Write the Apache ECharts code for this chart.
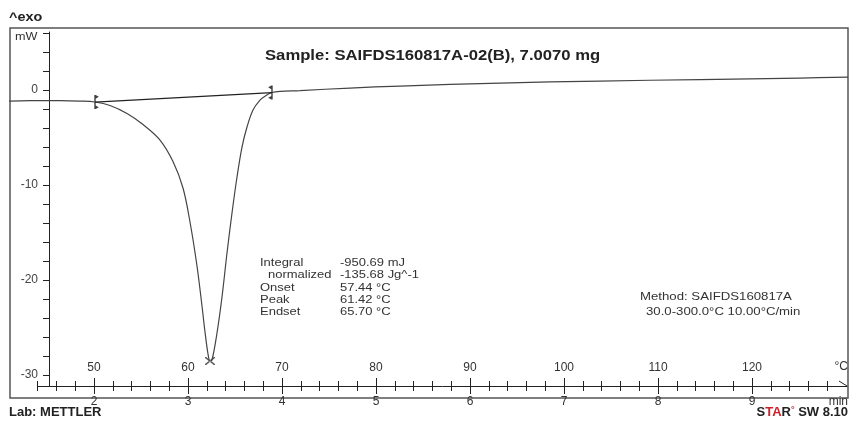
<!DOCTYPE html>
<html>
<head>
<meta charset="utf-8">
<script src="https://cdn.jsdelivr.net/npm/echarts@6/dist/echarts.min.js"></script>
<style>
  html, body { margin: 0; padding: 0; background: #fff; }
  #main { width: 849px; height: 425px; }
</style>
</head>
<body>
<div id="main"></div>
<script>
// DSC curve, time in min, heat flow in mW
var timeMin = [1.0957, 1.3191, 1.6383, 1.8511, 2.0106, 2.1702, 2.3511, 2.5213, 2.7021, 2.8404, 2.9468, 3.0213, 3.0957, 3.1489, 3.1809, 3.2128, 3.2340, 3.2553, 3.3085, 3.3617, 3.4149, 3.4681, 3.5213, 3.5745, 3.6277, 3.6915, 3.7660, 3.8298, 3.8936, 3.9787, 4.1915, 4.7234, 5.2553, 6.3191, 7.3830, 8.4468, 9.5106, 10.0213];
var heatFlow = [-1.158, -1.105, -1.105, -1.158, -1.263, -1.632, -2.474, -3.632, -5.263, -7.526, -10.316, -13.895, -18.526, -22.737, -25.474, -27.789, -28.526, -28.421, -25.579, -21.789, -17.158, -12.947, -9.158, -6.0, -3.895, -2.105, -1.053, -0.579, -0.263, -0.137, -0.053, 0.211, 0.421, 0.737, 0.947, 1.105, 1.263, 1.368];
var limitTime = [2.0106, 3.8936];
var limitFlow = [-1.263, -0.263];
var peakTime = [3.234];
var peakFlow = [-28.526];

var timeLabels = [2, 3, 4, 5, 6, 7, 8, 9];
var tempLabels = [50, 60, 70, 80, 90, 100, 110, 120];
var flowLabels = [-30, -20, -10, 0];

var minorTicks = [];
for (var k = 7; k <= 49; k++) { if (k % 5 != 0) minorTicks.push(k / 5); }
var flowTicks = [];
for (var f = -30; f <= 6; f += 2) flowTicks.push(f);

var FONT = "'Liberation Sans', Arial, sans-serif";
var INK = '#222';

function zip(a, b) { return a.map(function (v, i) { return [v, b[i]]; }); }

var xMin = 1 + 9 / 94, xMax = 1 + 848 / 94;

function tickAxis(values, len, inside, label) {
  return {
    type: 'value', gridIndex: 0, position: 'bottom', min: xMin, max: xMax,
    axisLine: {show: false, onZero: false},
    splitLine: {show: false},
    axisTick: {show: true, inside: inside, length: len, customValues: values, lineStyle: {color: INK, width: 1}},
    axisLabel: label || {show: false}
  };
}

function txt(x, y, s, size, opt) {
  opt = opt || {};
  return {
    type: 'text', x: x, y: y, scaleX: opt.sx || 1, silent: true,
    style: {
      text: s, fontSize: size, fontFamily: FONT, fontWeight: opt.bold ? 'bold' : 'normal',
      fill: opt.color || INK, align: opt.align || 'left', verticalAlign: 'middle',
      textAlign: opt.align || 'left', textVerticalAlign: 'middle', rich: opt.rich
    }
  };
}

// limit brackets and peak cross, drawn as filled outlines
var startMark = 'path://M0,0 L1.4,0 L1.4,14 L0,14 Z M1.4,0 L4.5,1.8 L1.4,3.6 Z M1.4,14 L4.5,12.2 L1.4,10.4 Z';
var endMark = 'path://M3.1,0 L4.5,0 L4.5,14 L3.1,14 Z M3.1,0 L0,1.8 L3.1,3.6 Z M3.1,14 L0,12.2 L3.1,10.4 Z';
var crossMark = 'path://M0,0 L1.2,0 L10,7 L10,8 L8.8,8 L0,1 Z M10,0 L8.8,0 L0,7 L0,8 L1.2,8 L10,1 Z';

var chart = echarts.init(document.getElementById('main'));
var option = {
  animation: false,
  backgroundColor: '#fff',
  grid: [
    {left: 9, right: 1, top: 32, bottom: 39},
    {left: 38, right: 2, top: 380, bottom: 39}
  ],
  xAxis: [
    {type: 'value', gridIndex: 0, min: xMin, max: xMax, show: false, axisLine: {onZero: false}},
    tickAxis(timeLabels, 8, false, {
      show: true, customValues: timeLabels, margin: 10, fontSize: 12, fontFamily: FONT, color: '#333'
    }),
    tickAxis(timeLabels, 8, true, {
      show: true, inside: true, customValues: timeLabels, margin: 12, fontSize: 12, fontFamily: FONT, color: '#333',
      formatter: function (v) { return String(tempLabels[timeLabels.indexOf(v)]); }
    }),
    tickAxis(minorTicks, 5, false),
    tickAxis(minorTicks, 5, true),
    {
      type: 'value', gridIndex: 1, position: 'bottom', min: 1 + 38 / 94, max: 1 + 847 / 94,
      axisLine: {show: true, onZero: false, lineStyle: {color: INK, width: 1}},
      axisTick: {show: false}, axisLabel: {show: false}, splitLine: {show: false}
    }
  ],
  yAxis: [
    {
      type: 'value', gridIndex: 0, position: 'left', offset: -40, min: -31.16, max: 6.11,
      axisLine: {show: true, onZero: false, lineStyle: {color: INK, width: 1}},
      axisTick: {show: true, length: 6, customValues: flowTicks, lineStyle: {color: INK, width: 1}},
      axisLabel: {show: true, customValues: flowLabels, margin: 11, fontSize: 12, fontFamily: FONT, color: '#444'},
      splitLine: {show: false}
    },
    {type: 'value', gridIndex: 1, show: false}
  ],
  series: [
    {
      name: 'curve', type: 'line', xAxisIndex: 0, yAxisIndex: 0,
      data: zip(timeMin, heatFlow), showSymbol: false, smooth: 0.35,
      lineStyle: {color: '#444', width: 1.2}
    },
    {
      name: 'baseline', type: 'line', xAxisIndex: 0, yAxisIndex: 0,
      data: zip(limitTime, limitFlow), showSymbol: false,
      lineStyle: {color: '#222', width: 1.2}
    },
    {
      name: 'limits', type: 'scatter', xAxisIndex: 0, yAxisIndex: 0,
      data: [
        {value: [limitTime[0], limitFlow[0]], symbol: startMark, symbolOffset: [1.55, 0]},
        {value: [limitTime[1], limitFlow[1]], symbol: endMark, symbolOffset: [-1.55, 0]}
      ],
      symbolSize: [4.5, 14],
      itemStyle: {color: '#111', borderWidth: 0}
    },
    {
      name: 'peak', type: 'scatter', xAxisIndex: 0, yAxisIndex: 0,
      data: zip(peakTime, peakFlow), symbol: crossMark, symbolSize: [10, 8],
      itemStyle: {color: '#333', borderWidth: 0}
    }
  ],
  graphic: [
    {type: 'rect', silent: true, shape: {x: 10, y: 28, width: 838, height: 370},
      style: {fill: 'none', stroke: '#555', lineWidth: 1.5}, z: -1},
    {type: 'line', silent: true, shape: {x1: 839, y1: 381, x2: 847, y2: 386}, style: {stroke: INK, lineWidth: 1}},
    txt(9, 18, '^exo', 12, {bold: true, sx: 1.2}),
    txt(15, 37, 'mW', 11, {color: '#333', sx: 1.15}),
    txt(265, 56, 'Sample: SAIFDS160817A-02(B), 7.0070 mg', 14, {bold: true, sx: 1.19}),
    txt(260, 263, 'Integral', 11, {color: '#333', sx: 1.18}),
    txt(268, 275, 'normalized', 11, {color: '#333', sx: 1.18}),
    txt(260, 288, 'Onset', 11, {color: '#333', sx: 1.18}),
    txt(260, 300, 'Peak', 11, {color: '#333', sx: 1.18}),
    txt(260, 312, 'Endset', 11, {color: '#333', sx: 1.18}),
    txt(340, 263, '-950.69 mJ', 11, {color: '#333', sx: 1.18}),
    txt(340, 275, '-135.68 Jg^-1', 11, {color: '#333', sx: 1.18}),
    txt(340, 288, '57.44 °C', 11, {color: '#333', sx: 1.18}),
    txt(340, 300, '61.42 °C', 11, {color: '#333', sx: 1.18}),
    txt(340, 312, '65.70 °C', 11, {color: '#333', sx: 1.18}),
    txt(640, 297, 'Method: SAIFDS160817A', 11, {color: '#333', sx: 1.2}),
    txt(646, 312, '30.0-300.0°C 10.00°C/min', 11, {color: '#333', sx: 1.2}),
    txt(848, 367, '°C', 12, {color: '#333', align: 'right'}),
    txt(848, 402, 'min', 12, {color: '#333', align: 'right'}),
    txt(9, 412, 'Lab: METTLER', 13, {bold: true, color: '#222'}),
    txt(848, 412, '{k|S}{r|TA}{k|R}{d|°} {k|SW 8.10}', 13, {bold: true, align: 'right', rich: {
      k: {fontSize: 13, fontWeight: 'bold', fontFamily: FONT, fill: '#222', color: '#222'},
      r: {fontSize: 13, fontWeight: 'bold', fontFamily: FONT, fill: '#d0202a', color: '#d0202a'},
      d: {fontSize: 9, fontWeight: 'bold', fontFamily: FONT, fill: '#d0202a', color: '#d0202a', verticalAlign: 'top'}
    }})
  ]
};
chart.setOption(option);
</script>
</body>
</html>
